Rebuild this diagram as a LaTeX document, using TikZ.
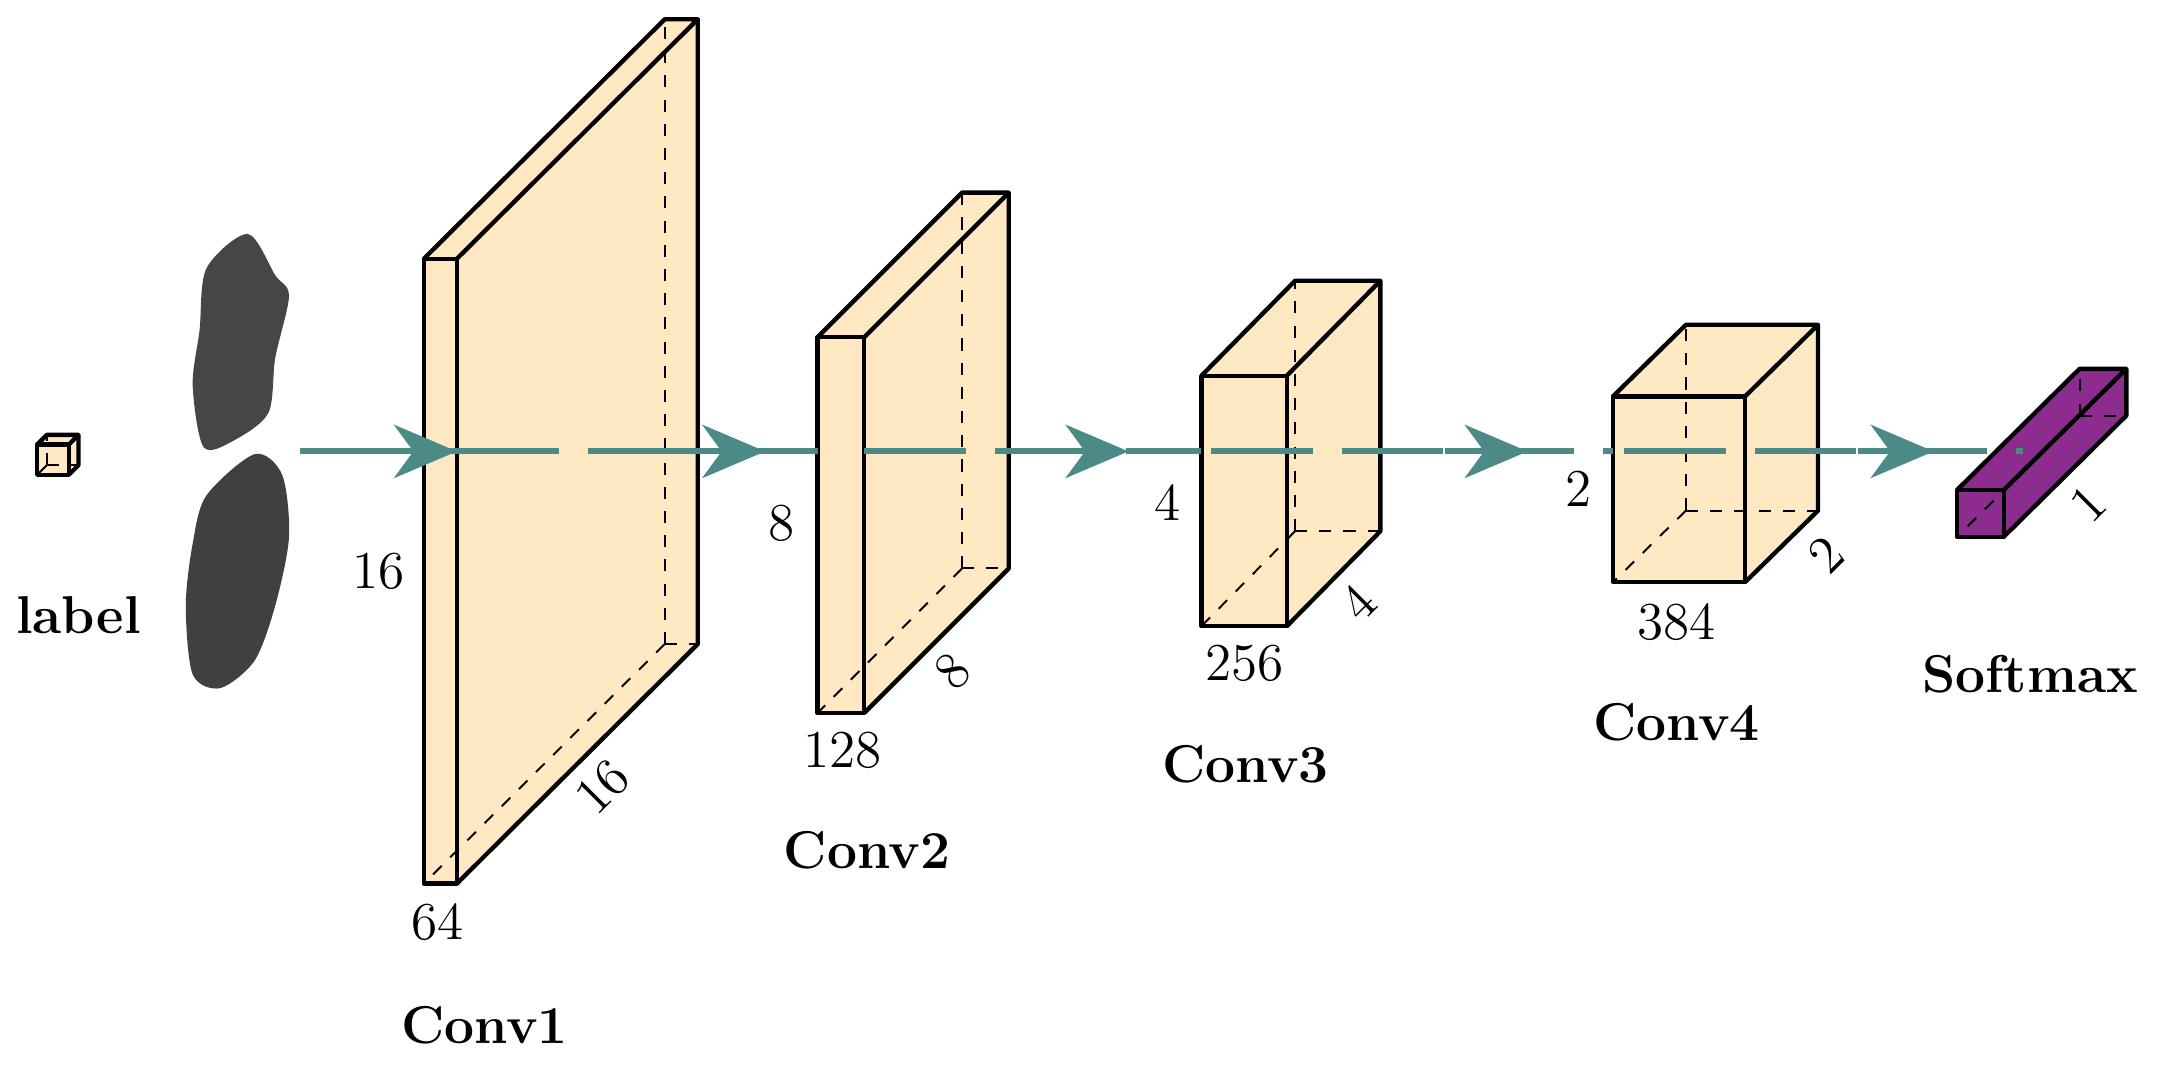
\documentclass[tikz,border=0pt]{standalone}
\usetikzlibrary{arrows.meta}
\definecolor{beige}{HTML}{FFE8C2}
\definecolor{tealc}{HTML}{4C8A88}
\definecolor{purp}{HTML}{8B2C8E}
\newcommand\mycub[7]{%
 \fill[#7] (#1,#3) -- (#1+#5,#3+#6) -- (#2+#5,#3+#6) -- (#2+#5,#4+#6) -- (#2,#4) -- (#1,#4) -- cycle;
 \draw[hid] (#1+#5,#4+#6) -- (#1,#4);
 \draw[hid] (#1+#5,#4+#6) -- (#1+#5,#3+#6);
 \draw[hid] (#1+#5,#4+#6) -- (#2+#5,#4+#6);
 \draw[edge] (#1,#3) rectangle (#2,#4);
 \draw[edge] (#1,#3) -- (#1+#5,#3+#6) -- (#2+#5,#3+#6) -- (#2,#3);
 \draw[edge] (#2+#5,#3+#6) -- (#2+#5,#4+#6) -- (#2,#4);
}
\tikzset{
 edge/.style={line width=0.9pt,line join=round},
 hid/.style={dash pattern=on 2.5pt off 2.5pt,line width=0.4pt},
 flow/.style={tealc,line width=1.2pt},
 flowd/.style={tealc,line width=1.2pt,dash pattern=on 21pt off 6pt},
 tip/.style={tealc,line width=1.2pt,-{Stealth[length=13pt,width=11pt,inset=4pt]}},
 lbl/.style={font=\fontsize{11}{13}\selectfont},
 ttl/.style={font=\fontsize{11}{13}\selectfont\bfseries},
}
\begin{document}
\begin{tikzpicture}[x=0.01cm,y=-0.01cm]
\useasboundingbox (0,0) rectangle (1568,777);
\fill[gray!55!black] plot[smooth cycle] coordinates {(150,195)(180,170)(200,200)(210,215)(200,260)(195,300)(170,320)(148,325)(140,280)(145,240)};
\fill[gray!50!black] plot[smooth cycle] coordinates {(150,360)(185,330)(205,345)(210,390)(200,440)(185,480)(160,500)(140,490)(135,440)(140,395)};
\mycub{27}{50}{323}{345}{7}{-7}{beige}
\node[ttl] (lab) at (57,447) {label};
\mycub{308}{332}{188}{642}{175}{-174}{beige}
\mycub{594}{628}{245}{518}{105}{-105}{beige}
\mycub{873}{935}{273}{455}{68}{-69}{beige}
\mycub{1172}{1268}{288}{423}{53}{-52}{beige}
\mycub{1422}{1456}{356}{390}{89}{-88}{purp}
\draw[flow] (218,328) -- (332,328);
\draw[tip] (218,328) -- (332,328);
\draw[flowd] (332,328) -- (594,328);
\draw[tip] (480,328) -- (556,328);
\draw[flowd] (628,328) -- (873,328);
\draw[tip] (760,328) -- (820,328);
\draw[flowd] (880,328) -- (1172,328);
\draw[tip] (1050,328) -- (1110,328);
\draw[flowd] (1180,328) -- (1470,328);
\draw[tip] (1350,328) -- (1405,328);
\node[lbl] (a1) at (275,415) {16};
\node[lbl] (a2) at (318,670) {64};
\node[lbl,rotate=45] (a3) at (438,572) {16};
\node[ttl] (c1) at (352,745) {Conv1};
\node[lbl] (b1) at (568,380) {8};
\node[lbl] (b2) at (612,545) {128};
\node[lbl,rotate=45] (b3) at (692,488) {8};
\node[ttl] (c2) at (630,618) {Conv2};
\node[lbl] (d1) at (848,365) {4};
\node[lbl] (d2) at (904,482) {256};
\node[lbl,rotate=45] (d3) at (987,438) {4};
\node[ttl] (c3) at (905,555) {Conv3};
\node[lbl] (e1) at (1147,355) {2};
\node[lbl] (e2) at (1218,452) {384};
\node[lbl,rotate=45] (e3) at (1327,403) {2};
\node[ttl] (c4) at (1218,525) {Conv4};
\node[lbl,rotate=45] (f3) at (1517,366) {1};
\node[ttl] (c5) at (1475,490) {Softmax};
\end{tikzpicture}
\end{document}
